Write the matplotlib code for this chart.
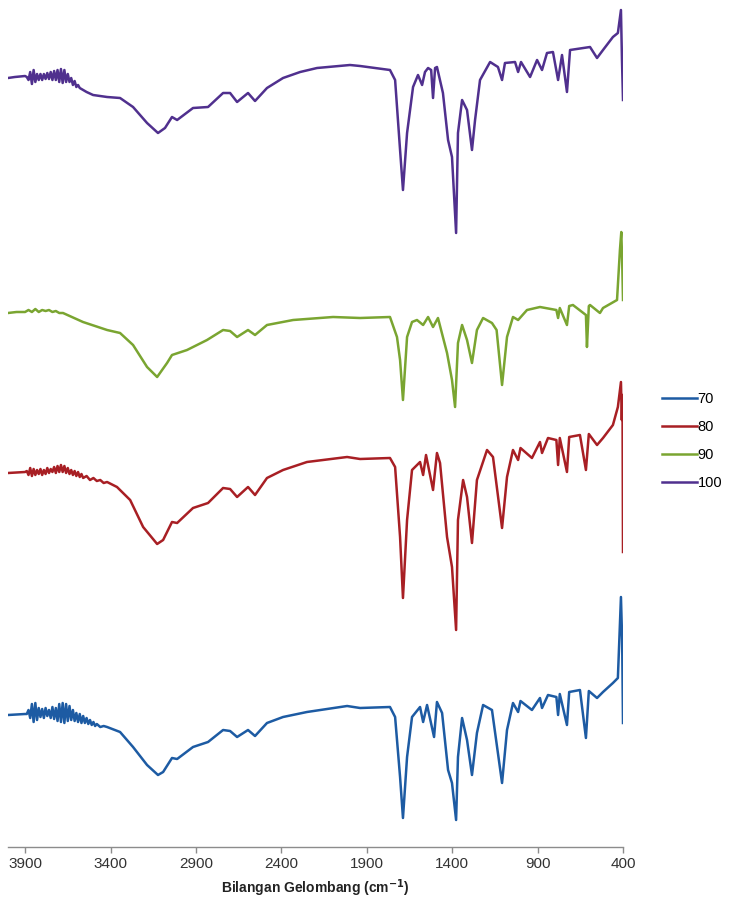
import numpy as np
import matplotlib
matplotlib.use('Agg')
import matplotlib.pyplot as plt

plt.rcParams['font.family'] = ['Liberation Sans Narrow', 'Liberation Sans', 'DejaVu Sans']

# spektrum FTIR, nilai (satuan relatif, sudah digeser per kurva)
wn_70 = [4000, 3900, 3890, 3880, 3870, 3860, 3850, 3840, 3830, 3820,
         3810, 3800, 3790, 3780, 3770, 3760, 3750, 3740, 3730, 3720,
         3710, 3700, 3690, 3680, 3670, 3660, 3650, 3640, 3630, 3620,
         3610, 3600, 3590, 3580, 3570, 3560, 3550, 3540, 3530, 3520,
         3510, 3500, 3490, 3480, 3460, 3440, 3420, 3344, 3268, 3186,
         3122, 3092, 3040, 3010, 2917, 2829, 2741, 2700, 2659, 2595,
         2554, 2484, 2390, 2250, 2015, 1939, 1764, 1734, 1705, 1688,
         1664, 1635, 1588, 1570, 1547, 1506, 1489, 1459, 1424, 1401,
         1377, 1366, 1342, 1313, 1284, 1255, 1219, 1167, 1108, 1079,
         1044, 1014, 1000, 933, 886, 874, 839, 790, 780, 770,
         728, 715, 652, 617, 600, 552, 517, 459, 430, 412,
         405, 400]
t_70 = [13.5, 13.6, 13.6, 14.0, 13.2, 14.6, 12.8, 14.7, 13.0, 14.2,
        13.3, 14.1, 13.2, 14.2, 13.4, 14.0, 13.2, 14.3, 13.1, 14.2,
        12.9, 14.6, 12.8, 14.7, 12.7, 14.6, 12.9, 14.4, 13.0, 14.0,
        12.9, 13.7, 12.8, 13.6, 12.7, 13.4, 12.7, 13.2, 12.6, 13.0,
        12.5, 12.8, 12.4, 12.6, 12.3, 12.4, 12.3, 11.8, 10.3, 8.5,
        7.5, 7.8, 9.2, 9.1, 10.3, 10.8, 12.0, 11.9, 11.3, 12.0,
        11.4, 12.7, 13.3, 13.8, 14.4, 14.2, 14.3, 13.3, 7.3, 3.2,
        9.3, 13.3, 14.3, 12.8, 14.5, 11.3, 14.8, 13.7, 8.0, 6.7,
        3.0, 9.3, 13.2, 11.0, 7.5, 11.7, 14.5, 14.0, 6.7, 12.0,
        14.7, 13.8, 14.9, 14.0, 15.2, 14.2, 15.5, 15.3, 13.5, 15.6,
        12.5, 15.8, 16.0, 11.2, 15.9, 15.2, 15.8, 16.7, 17.2, 25.3,
        21.0, 12.7]

wn_80 = [4000, 3900, 3890, 3880, 3870, 3860, 3850, 3840, 3830, 3820,
         3810, 3800, 3790, 3780, 3770, 3760, 3750, 3740, 3730, 3720,
         3710, 3700, 3690, 3680, 3670, 3660, 3650, 3640, 3630, 3620,
         3610, 3600, 3590, 3580, 3570, 3560, 3540, 3520, 3500, 3480,
         3460, 3440, 3420, 3362, 3285, 3209, 3127, 3092, 3040, 3010,
         2917, 2829, 2741, 2700, 2659, 2595, 2554, 2484, 2390, 2250,
         2015, 1939, 1764, 1734, 1705, 1688, 1664, 1635, 1588, 1570,
         1553, 1512, 1489, 1471, 1430, 1401, 1377, 1366, 1336, 1313,
         1284, 1255, 1196, 1161, 1108, 1079, 1044, 1014, 1000, 933,
         886, 874, 839, 790, 780, 770, 728, 715, 652, 617,
         600, 552, 517, 459, 430, 412, 407, 403, 400]
t_80 = [37.7, 37.8, 37.9, 37.5, 38.2, 37.4, 38.1, 37.5, 38.0, 37.6,
        38.1, 37.5, 38.0, 37.6, 38.2, 37.7, 38.1, 37.8, 38.3, 37.7,
        38.4, 37.8, 38.5, 37.8, 38.4, 37.7, 38.2, 37.6, 38.0, 37.5,
        37.9, 37.4, 37.8, 37.3, 37.6, 37.2, 37.4, 37.0, 37.2, 36.9,
        37.0, 36.7, 36.8, 36.3, 35.0, 32.3, 30.6, 31.0, 32.8, 32.7,
        34.2, 34.7, 36.2, 36.1, 35.3, 36.3, 35.5, 37.2, 38.0, 38.8,
        39.3, 39.1, 39.2, 38.3, 31.3, 25.2, 33.0, 38.0, 38.8, 37.5,
        39.5, 36.0, 39.7, 38.7, 31.3, 28.3, 22.0, 33.0, 37.0, 35.3,
        30.7, 37.0, 40.0, 39.3, 32.2, 37.3, 40.0, 39.0, 40.2, 39.2,
        40.8, 39.7, 41.2, 41.0, 38.5, 41.2, 37.8, 41.3, 41.5, 38.0,
        41.6, 40.5, 41.2, 42.5, 44.3, 46.8, 43.0, 45.5, 29.8]

wn_90 = [4000, 3950, 3900, 3880, 3860, 3840, 3820, 3800, 3780, 3760,
         3740, 3720, 3700, 3678, 3561, 3420, 3344, 3268, 3186, 3127,
         3069, 3040, 2952, 2835, 2741, 2700, 2659, 2595, 2554, 2484,
         2331, 2097, 1939, 1764, 1723, 1705, 1688, 1664, 1635, 1606,
         1570, 1541, 1512, 1483, 1430, 1401, 1383, 1366, 1342, 1313,
         1284, 1255, 1219, 1167, 1140, 1108, 1079, 1044, 1014, 962,
         886, 790, 780, 770, 728, 715, 693, 617, 611, 600,
         593, 535, 517, 435, 418, 410, 405, 400]
t_90 = [53.7, 53.8, 53.8, 54.0, 53.8, 54.1, 53.8, 54.0, 53.9, 54.0,
        53.8, 53.9, 53.7, 53.7, 52.8, 52.0, 51.7, 50.5, 48.3, 47.3,
        48.7, 49.5, 50.0, 51.0, 52.0, 51.9, 51.3, 52.0, 51.5, 52.5,
        53.0, 53.3, 53.2, 53.3, 51.3, 49.0, 45.0, 51.3, 52.8, 53.0,
        52.5, 53.3, 52.3, 53.2, 49.7, 47.0, 44.3, 50.7, 52.5, 51.0,
        48.7, 52.0, 53.2, 52.7, 52.0, 46.5, 51.3, 53.3, 53.0, 54.0,
        54.3, 54.0, 53.2, 54.2, 52.5, 54.4, 54.5, 53.5, 50.3, 54.4,
        54.5, 53.7, 54.2, 55.0, 60.0, 61.8, 59.0, 55.0]

wn_100 = [4000, 3960, 3900, 3890, 3880, 3870, 3860, 3850, 3840, 3830,
          3820, 3810, 3800, 3790, 3780, 3770, 3760, 3750, 3740, 3730,
          3720, 3710, 3700, 3690, 3680, 3670, 3660, 3650, 3640, 3630,
          3620, 3610, 3600, 3590, 3580, 3540, 3502, 3420, 3344, 3268,
          3186, 3122, 3081, 3040, 3010, 2917, 2829, 2741, 2700, 2659,
          2595, 2554, 2484, 2390, 2290, 2191, 1998, 1939, 1764, 1734,
          1705, 1688, 1664, 1629, 1600, 1576, 1559, 1541, 1523, 1512,
          1500, 1489, 1454, 1424, 1401, 1377, 1366, 1342, 1313, 1284,
          1266, 1237, 1178, 1132, 1108, 1091, 1032, 1014, 997, 944,
          903, 874, 845, 810, 780, 757, 728, 710, 593, 552,
          517, 459, 430, 412, 406, 400]
t_100 = [77.2, 77.3, 77.4, 77.3, 77.0, 77.8, 76.6, 78.0, 76.8, 77.6,
         77.0, 77.6, 77.0, 77.6, 77.1, 77.7, 77.1, 77.8, 77.0, 77.9,
         77.0, 78.0, 76.8, 78.1, 76.7, 78.0, 76.8, 77.6, 76.8, 77.2,
         76.5, 76.9, 76.3, 76.5, 76.2, 75.8, 75.5, 75.3, 75.2, 74.3,
         72.7, 71.7, 72.2, 73.3, 73.0, 74.2, 74.3, 75.7, 75.7, 74.8,
         75.7, 74.9, 76.2, 77.2, 77.8, 78.2, 78.5, 78.4, 78.0, 77.0,
         70.0, 66.0, 71.7, 76.3, 77.5, 76.5, 77.8, 78.2, 78.0, 75.2,
         78.2, 78.3, 75.7, 71.0, 69.3, 61.7, 71.7, 75.0, 74.0, 70.0,
         73.0, 77.0, 78.8, 78.3, 77.0, 78.7, 78.8, 77.8, 78.8, 77.3,
         79.0, 78.0, 79.7, 79.8, 77.0, 79.5, 75.8, 80.0, 80.3, 79.2,
         80.0, 81.3, 81.7, 84.0, 79.0, 75.0]

labels = ['70', '80', '90', '100']
colors = ['#1d5ba3', '#a81f24', '#7aa531', '#50308e']
xticks = [3900, 3400, 2900, 2400, 1900, 1400, 900, 400]

fig = plt.figure(figsize=(7.30, 9.09), dpi=100)
ax = fig.add_axes([8/730, 1 - 847/909, 615/730, 847/909])

series = [(wn_70, t_70), (wn_80, t_80), (wn_90, t_90), (wn_100, t_100)]
for (w, t), lab, c in zip(series, labels, colors):
    ax.plot(w, t, color=c, lw=1.8, label=lab, solid_joinstyle='round')

ax.set_xlim(4000, 400)
ax.set_ylim(0.3, 85)
ax.set_xticks(xticks)
ax.set_xticklabels([str(v) for v in xticks], fontsize=11, color='#333333')
ax.tick_params(axis='x', direction='out', length=4, width=1, color='#8c8c8c', pad=3)
ax.set_yticks([])
for s in ['left', 'right', 'top']:
    ax.spines[s].set_visible(False)
ax.spines['bottom'].set_color('#8c8c8c')
ax.spines['bottom'].set_linewidth(1.0)
ax.set_xlabel(r'Bilangan Gelombang (cm$^{\mathbf{-1}}$)', fontsize=10,
              fontweight='bold', color='#222222', labelpad=5)

fig.legend(loc='center left', bbox_to_anchor=(662/730, 1 - 441/909),
           frameon=False, fontsize=10.5, handlelength=2.4, handletextpad=0.05,
           labelspacing=0.95, borderpad=0, borderaxespad=0)

fig.savefig('out.png', dpi=100)
